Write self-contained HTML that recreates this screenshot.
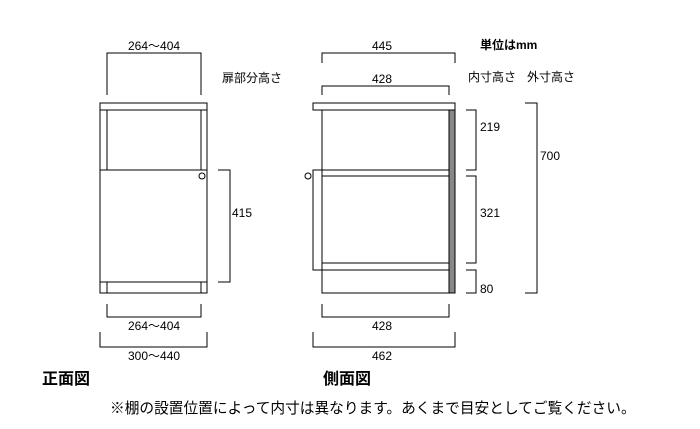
<!DOCTYPE html>
<html><head><meta charset="utf-8"><style>
body{margin:0;background:#fff;width:700px;height:429px;overflow:hidden;position:relative;font-family:"Liberation Sans","Noto Sans CJK JP",sans-serif;}
.t{position:absolute;font-size:12px;color:#000;white-space:nowrap;line-height:1;}
svg{position:absolute;left:0;top:0}
</style></head><body>
<svg width="700" height="429" viewBox="0 0 700 429" fill="none" stroke="#000" stroke-width="1.4" shape-rendering="crispEdges">
<path d="M107 95V53H201V95"/>
<rect x="100" y="103" width="107" height="190"/>
<line x1="100" y1="110" x2="207" y2="110"/>
<line x1="107" y1="110" x2="107" y2="170"/>
<line x1="201" y1="110" x2="201" y2="170"/>
<line x1="100" y1="170" x2="207" y2="170"/>
<line x1="100" y1="282" x2="207" y2="282"/>
<line x1="107" y1="282" x2="107" y2="293"/>
<line x1="201" y1="282" x2="201" y2="293"/>
<circle cx="202" cy="176" r="3" shape-rendering="auto" stroke-width="1"/>
<path d="M218 170H230V282H218"/>
<path d="M107 304V317H201V304"/>
<path d="M100 332V347H207V332"/>
<path d="M322 63V53H455V63"/>
<path d="M322 95V86H449V95"/>
<rect x="313" y="103" width="142" height="7"/>
<rect x="449" y="110" width="6" height="183" fill="#888"/>
<rect x="322" y="110" width="127" height="183"/>
<line x1="322" y1="176" x2="449" y2="176"/>
<line x1="322" y1="263" x2="449" y2="263"/>
<line x1="322" y1="270" x2="449" y2="270"/>
<path d="M322 170H313V270H322"/>
<line x1="313" y1="170" x2="449" y2="170"/>
<circle cx="308" cy="176" r="3" shape-rendering="auto" stroke-width="1"/>
<path d="M466 110H476V170H466"/>
<path d="M466 176H476V263H466"/>
<path d="M466 270H476V293H466"/>
<path d="M525 103H537V293H525"/>
<path d="M322 304V317H449V304"/>
<path d="M313 332V347H455V332"/>
</svg>
<div class="t" style="left:128px;top:40px">264～404</div>
<div class="t" style="left:222px;top:72px">扉部分高さ</div>
<div class="t" style="left:232px;top:207px">415</div>
<div class="t" style="left:128px;top:320px">264～404</div>
<div class="t" style="left:128px;top:350px">300～440</div>
<div class="t" style="left:372px;top:40px">445</div>
<div class="t" style="left:372px;top:73px">428</div>
<div class="t" style="left:480px;top:39px;font-weight:bold">単位はmm</div>
<div class="t" style="left:468px;top:71px">内寸高さ</div>
<div class="t" style="left:527px;top:71px">外寸高さ</div>
<div class="t" style="left:480px;top:121px">219</div>
<div class="t" style="left:480px;top:207px">321</div>
<div class="t" style="left:480px;top:283px">80</div>
<div class="t" style="left:540px;top:150px">700</div>
<div class="t" style="left:372px;top:320px">428</div>
<div class="t" style="left:372px;top:350px">462</div>
<div class="t" style="left:42px;top:372px;font-size:16px;font-weight:bold">正面図</div>
<div class="t" style="left:323px;top:372px;font-size:16px;font-weight:bold">側面図</div>
<div class="t" style="left:110px;top:402px;font-size:14.7px">※棚の設置位置によって内寸は異なります。あくまで目安としてご覧ください。</div>
</body></html>
